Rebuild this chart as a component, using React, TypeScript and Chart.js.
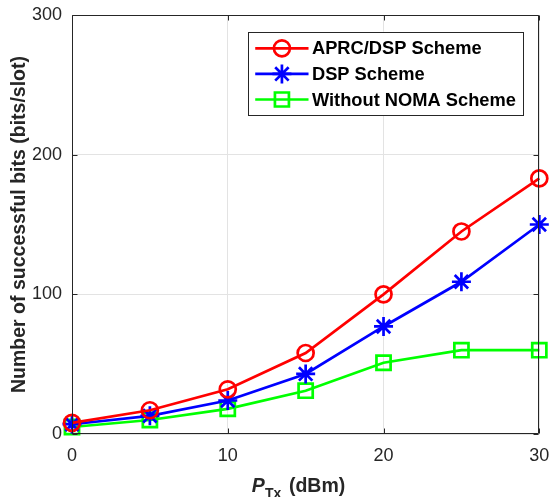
import React, { useEffect, useRef } from 'react';
import { Chart, registerables } from 'chart.js';

Chart.register(...registerables);

const xValues = [0, 5, 10, 15, 20, 25, 30];
const aprcDsp = [8, 17, 32, 58, 100, 145, 183];
const dsp = [7, 13, 24, 43, 77, 109, 150];
const withoutNoma = [5, 10, 18, 31, 51, 60, 60];
const seriesLabels = ['APRC/DSP Scheme', 'DSP Scheme', 'Without NOMA Scheme'];
const seriesColors = ['#ff0000', '#0000ff', '#00ff00'];
const seriesMarkers = ['circle', 'star', 'rect'];
const seriesRadius = [8, 9.5, 10];
const xTicks = [0, 10, 20, 30];
const yTicks = [0, 100, 200, 300];
const yTitle = 'Number of successful bits (bits/slot)';

const FONT = "'Liberation Sans', Arial, Helvetica, sans-serif";
const AXIS = '#262626';

function drawMarker(ctx: CanvasRenderingContext2D, kind: string, x: number, y: number, color: string) {
  ctx.save();
  ctx.strokeStyle = color;
  ctx.lineWidth = 2.7;
  ctx.beginPath();
  if (kind === 'circle') {
    ctx.arc(x, y, 8, 0, Math.PI * 2);
  } else if (kind === 'star') {
    const r = 9.5;
    for (let k = 0; k < 4; k++) {
      const ang = (k * Math.PI) / 4;
      ctx.moveTo(x - Math.cos(ang) * r, y - Math.sin(ang) * r);
      ctx.lineTo(x + Math.cos(ang) * r, y + Math.sin(ang) * r);
    }
  } else {
    ctx.rect(x - 7, y - 7, 14, 14);
  }
  ctx.stroke();
  ctx.restore();
}

const decorPlugin = {
  id: 'matlabDecor',
  afterDraw(chart: any) {
    const { ctx, chartArea: a, scales } = chart;
    const xs = scales.x;
    const ys = scales.y;
    ctx.save();
    // axes box
    ctx.strokeStyle = AXIS;
    ctx.lineWidth = 1;
    const L = Math.round(a.left) + 0.5;
    const R = Math.round(a.right) - 0.5;
    const T = Math.round(a.top) + 0.5;
    const B = Math.round(a.bottom) - 0.5;
    ctx.beginPath();
    ctx.rect(L, T, R - L, B - T);
    ctx.stroke();
    // inward ticks
    ctx.beginPath();
    for (const v of xTicks) {
      const px = Math.round(xs.getPixelForValue(v)) + 0.5;
      ctx.moveTo(px, B);
      ctx.lineTo(px, B - 5);
      ctx.moveTo(px, T);
      ctx.lineTo(px, T + 5);
    }
    for (const v of yTicks) {
      const py = Math.round(ys.getPixelForValue(v)) + 0.5;
      ctx.moveTo(L, py);
      ctx.lineTo(L + 5, py);
      ctx.moveTo(R, py);
      ctx.lineTo(R - 5, py);
    }
    ctx.stroke();

    // x axis title with subscript
    const cx = (a.left + a.right) / 2;
    const x0 = cx - 54;
    ctx.fillStyle = AXIS;
    ctx.textAlign = 'left';
    ctx.textBaseline = 'alphabetic';
    ctx.font = `italic bold 19.5px ${FONT}`;
    ctx.fillText('P', x0, a.bottom + 57.7);
    ctx.font = `bold 14px ${FONT}`;
    ctx.fillText('Tx', x0 + 13.3, a.bottom + 64);
    ctx.font = `bold 19.5px ${FONT}`;
    ctx.fillText('(dBm)', x0 + 37.3, a.bottom + 57.7);

    // legend
    const labels: string[] = chart.data.datasets.map((d: any) => d.label);
    ctx.font = `bold 18.3px ${FONT}`;
    const maxW = Math.max(...labels.map((l) => ctx.measureText(l).width));
    const boxRight = a.right - 16.7;
    const boxTop = a.top + 16.7;
    const boxW = 64.4 + maxW + 6.7;
    const boxH = 83.3;
    const boxLeft = boxRight - boxW;
    ctx.fillStyle = '#ffffff';
    ctx.fillRect(boxLeft, boxTop, boxW, boxH);
    ctx.strokeStyle = AXIS;
    ctx.lineWidth = 1;
    ctx.strokeRect(Math.round(boxLeft) + 0.5, Math.round(boxTop) + 0.5, Math.round(boxW), Math.round(boxH));
    labels.forEach((lab, i) => {
      const cy = boxTop + 16.6 + i * 25.6;
      const color = seriesColors[i];
      ctx.strokeStyle = color;
      ctx.lineWidth = 2.7;
      ctx.beginPath();
      ctx.moveTo(boxLeft + 7.7, cy);
      ctx.lineTo(boxLeft + 61, cy);
      ctx.stroke();
      drawMarker(ctx, seriesMarkers[i], boxLeft + 34.4, cy, color);
      ctx.fillStyle = '#000000';
      ctx.font = `bold 18.3px ${FONT}`;
      ctx.textBaseline = 'middle';
      ctx.textAlign = 'left';
      ctx.fillText(lab, boxLeft + 64.4, cy + 1);
    });
    ctx.restore();
  },
};

export default function App() {
  const ref = useRef<HTMLCanvasElement | null>(null);

  useEffect(() => {
    document.body.style.margin = '0';
    const canvas = ref.current;
    if (!canvas) return;
    const series = [aprcDsp, dsp, withoutNoma];
    const chart = new Chart(canvas, {
      type: 'line',
      data: {
        datasets: series.map((vals, i) => ({
          label: seriesLabels[i],
          data: xValues.map((x, j) => ({ x, y: vals[j] })),
          borderColor: seriesColors[i],
          borderWidth: 2.7,
          pointStyle: seriesMarkers[i] as any,
          pointRadius: seriesRadius[i],
          pointBorderWidth: 2.7,
          pointBorderColor: seriesColors[i],
          pointBackgroundColor: 'rgba(0,0,0,0)',
          fill: false,
          tension: 0,
          clip: false as any,
        })),
      },
      options: {
        responsive: false,
        animation: false,
        events: [],
        layout: { padding: { left: 0, top: 15, right: 10, bottom: 0 } },
        plugins: {
          legend: { display: false },
          tooltip: { enabled: false },
        },
        scales: {
          x: {
            type: 'linear',
            min: 0,
            max: 30,
            afterBuildTicks: (s: any) => {
              s.ticks = xTicks.map((v) => ({ value: v }));
            },
            afterFit: (s: any) => {
              s.height = 63;
              s.paddingLeft = 0;
              s.paddingRight = 0;
            },
            grid: { color: '#e3e3e3', lineWidth: 1, drawTicks: false },
            border: { display: false },
            ticks: {
              padding: 11,
              color: AXIS,
              maxRotation: 0,
              font: { family: FONT, size: 18 },
            },
          },
          y: {
            type: 'linear',
            min: 0,
            max: 300,
            afterBuildTicks: (s: any) => {
              s.ticks = yTicks.map((v) => ({ value: v }));
            },
            afterFit: (s: any) => {
              s.width = 72;
              s.paddingTop = 0;
              s.paddingBottom = 0;
            },
            grid: { color: '#e3e3e3', lineWidth: 1, drawTicks: false },
            border: { display: false },
            ticks: {
              padding: 10,
              color: AXIS,
              font: { family: FONT, size: 18 },
            },
            title: {
              display: true,
              text: yTitle,
              color: AXIS,
              font: { family: FONT, size: 19.5, weight: 'bold' },
              padding: { top: 8, bottom: 0 },
            },
          },
        },
      },
      plugins: [decorPlugin],
    });
    return () => chart.destroy();
  }, []);

  return (
    <div style={{ width: 552, height: 497 }}>
      <canvas ref={ref} width={552} height={497} style={{ display: 'block' }} />
    </div>
  );
}
